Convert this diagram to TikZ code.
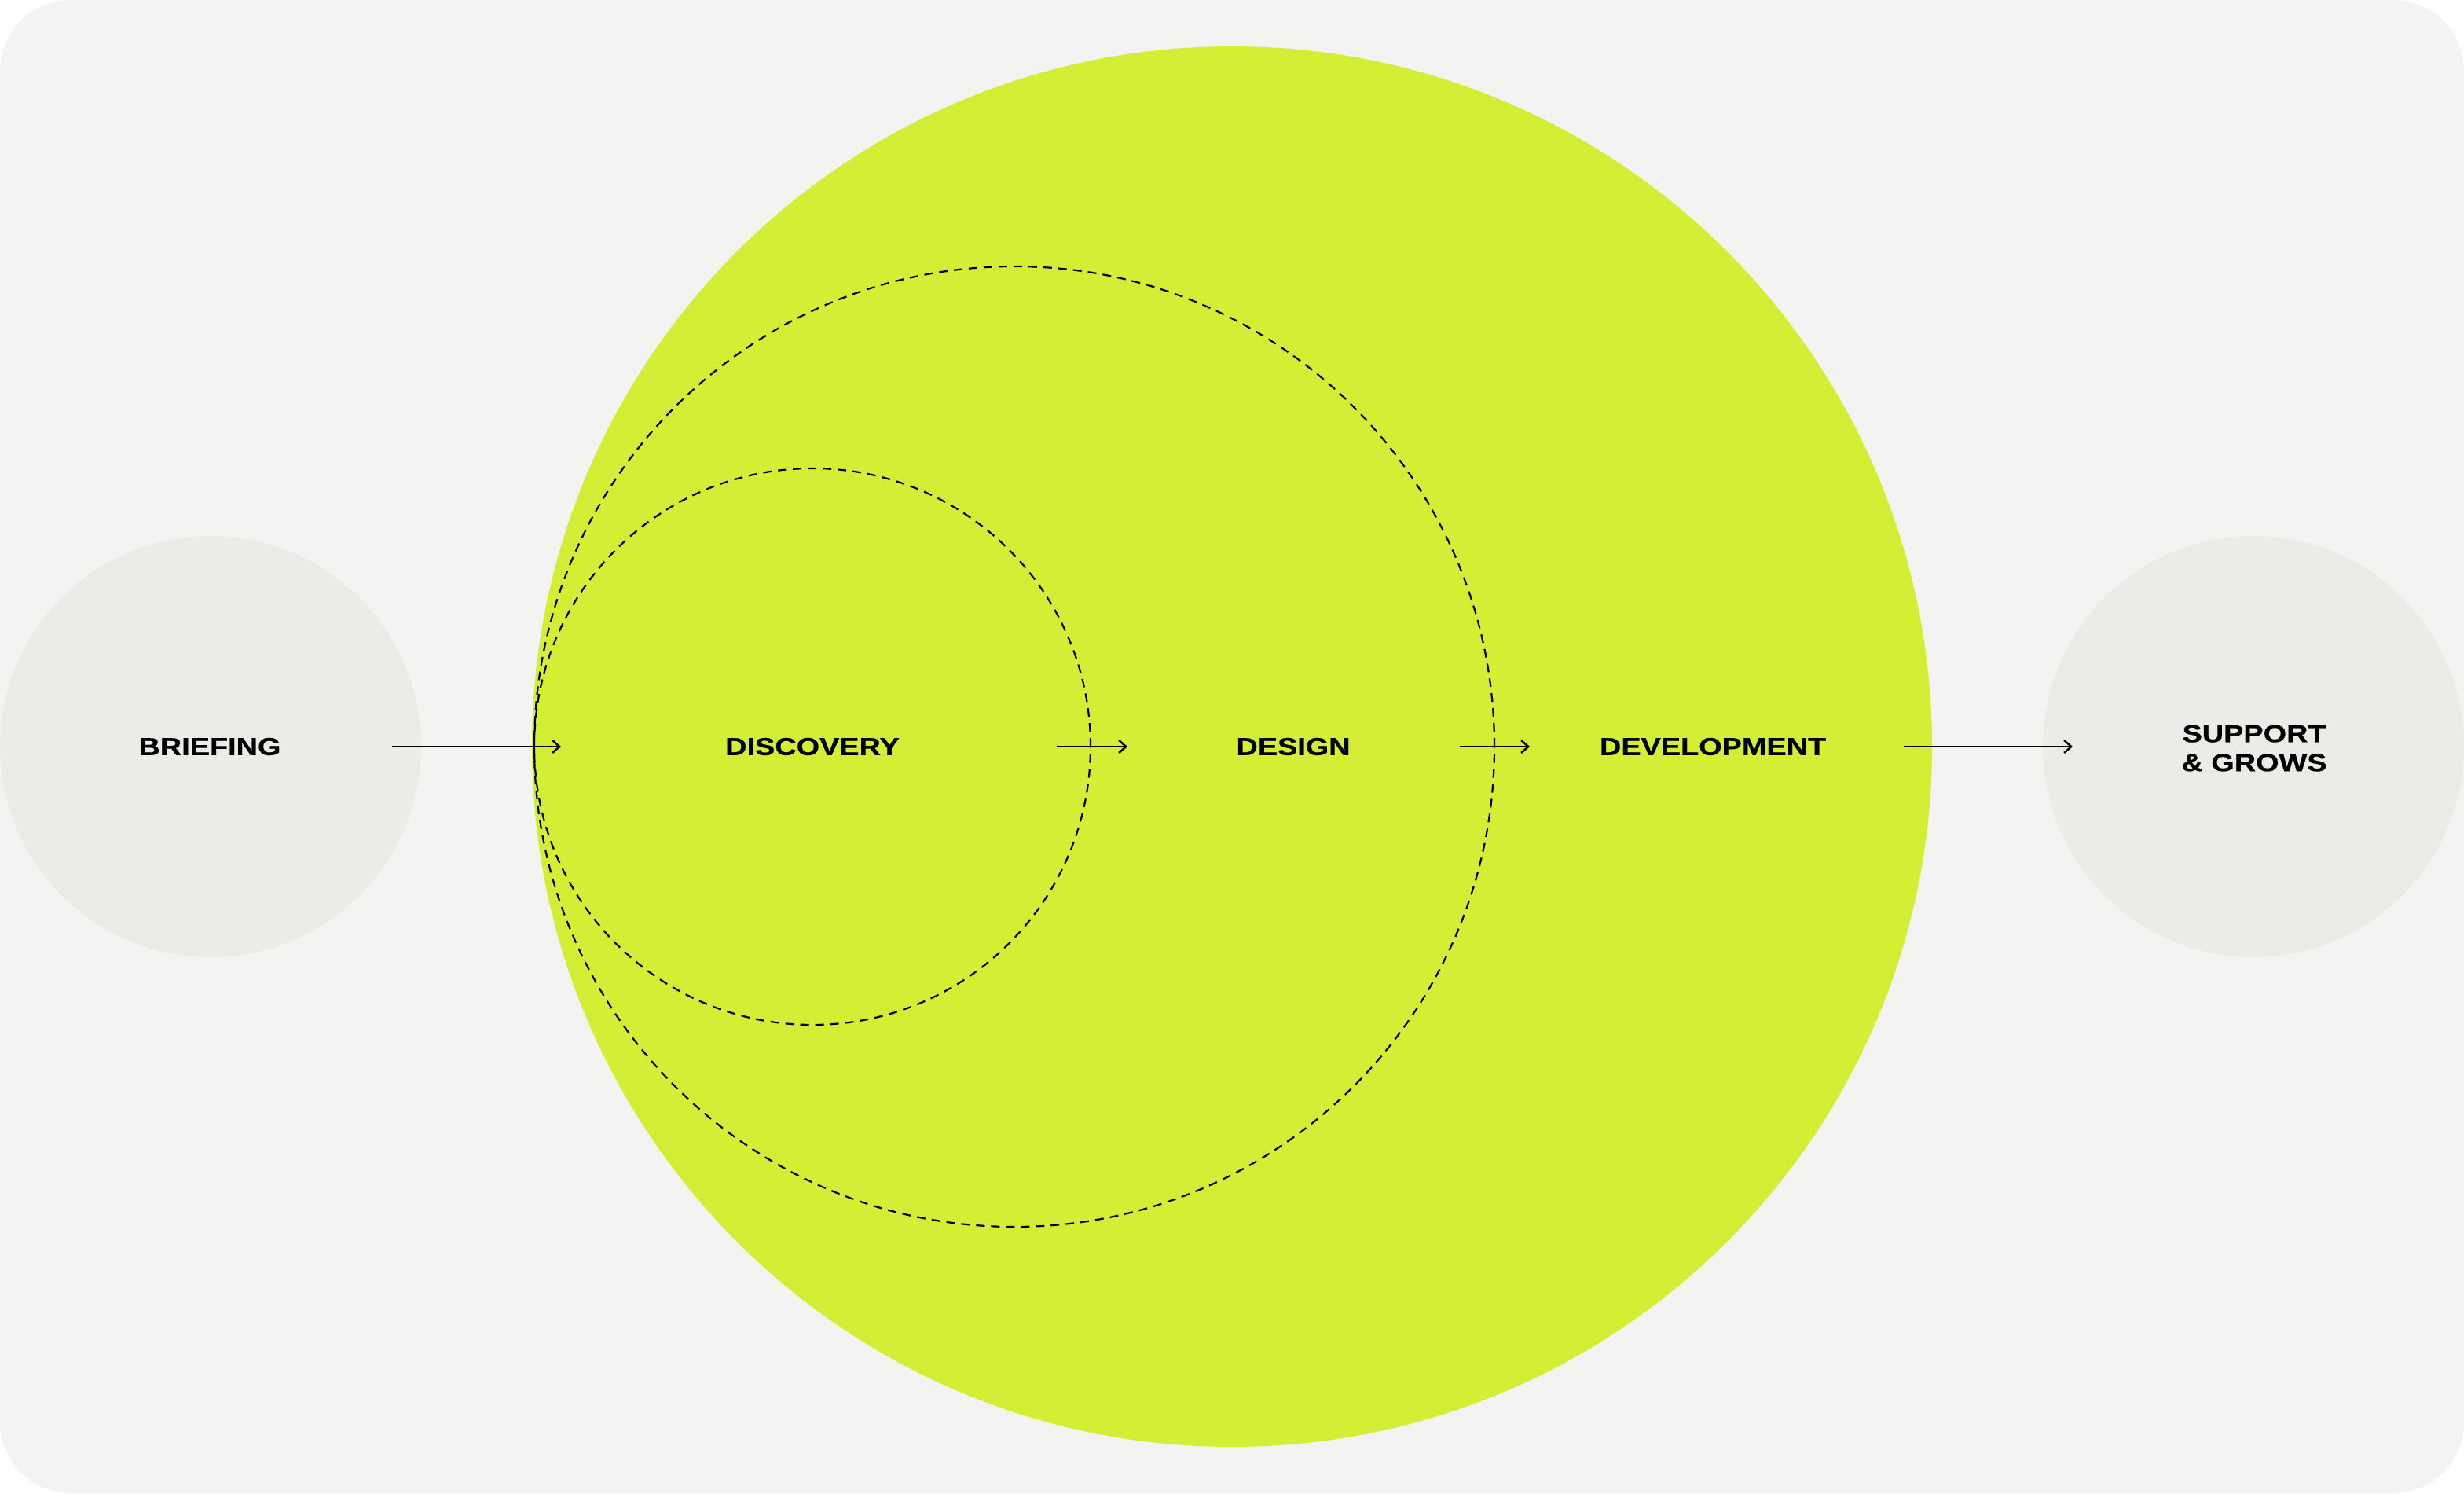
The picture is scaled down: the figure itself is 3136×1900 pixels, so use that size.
\documentclass[tikz,border=0pt]{standalone}
\usepackage{fontspec}
\newfontfamily\stagefont[FakeStretch=1.21, BoldFeatures={FakeBold=0.6}]{Liberation Sans}
\usetikzlibrary{arrows.meta, calc}
\definecolor{panel}{HTML}{F3F3F1}
\definecolor{greyball}{HTML}{EBEBE7}
\definecolor{limeball}{HTML}{D4EE35}

\begin{document}
\begin{tikzpicture}[x=.1mm, y=.1mm,
		stage/.style={font=\stagefont\bfseries\fontsize{8.9}{10.5}\selectfont, align=center, inner sep=0pt},
		flow/.style={-{Straight Barb[length=.9mm,width=1.6mm]}, line width=.25mm},
		loop/.style={dash pattern=on 1.1mm off .8mm, line width=.22mm}]
	
	\useasboundingbox (0,0) rectangle (3136,1900);
	\fill[panel, rounded corners=9mm] (0,0) rectangle (3136,1900);
	
	\fill[greyball] (268,950) circle (268);
	\fill[greyball] (2868,950) circle (268);
	\fill[limeball] (1568,950) circle (891);
	
	\draw[loop] (1291,950) circle (611);
	\draw[loop] (1034,950) circle (354);
	
	\node[stage] (briefing) at (267,950) {BRIEFING};
	\node[stage] (discovery) at (1034,950) {DISCOVERY};
	\node[stage] (design) at (1646,950) {DESIGN};
	\node[stage] (development) at (2180,950) {DEVELOPMENT};
	\node[stage] (support) at (2869,948) {SUPPORT\\\& GROWS};
	
	\coordinate (a1) at (499,950);
	\coordinate (b1) at (714,950);
	\coordinate (a2) at (1345,950);
	\coordinate (b2) at (1435,950);
	\coordinate (a3) at (1858,950);
	\coordinate (b3) at (1947,950);
	\coordinate (a4) at (2423,950);
	\coordinate (b4) at (2638,950);
	
	\draw[flow] (a1) -- (b1);
	\draw[flow] (a2) -- (b2);
	\draw[flow] (a3) -- (b3);
	\draw[flow] (a4) -- (b4);
	
\end{tikzpicture}
\end{document}
